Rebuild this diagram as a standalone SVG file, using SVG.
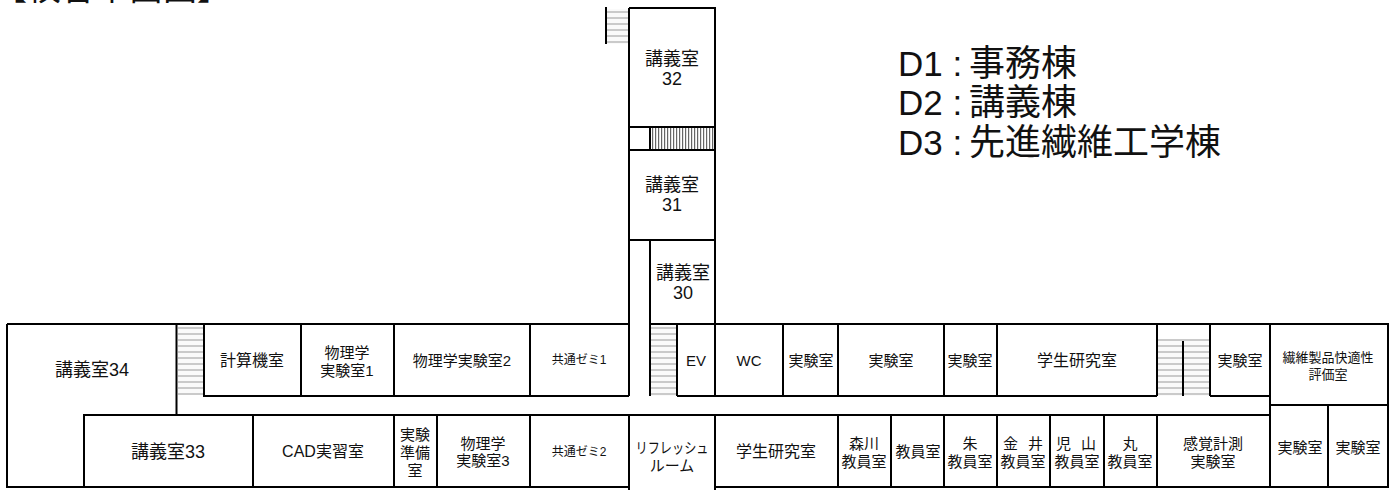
<svg xmlns="http://www.w3.org/2000/svg" width="1396" height="490" viewBox="0 0 1396 490">
<defs>
<pattern id="stairH" width="10" height="6" patternUnits="userSpaceOnUse" y="327">
<rect width="10" height="6" fill="#fafafa"/>
<rect y="0" width="10" height="2" fill="#cacaca"/>
</pattern>
<pattern id="stairT" width="10" height="6" patternUnits="userSpaceOnUse" y="11">
<rect width="10" height="6" fill="#fafafa"/>
<rect y="0" width="10" height="2" fill="#cacaca"/>
</pattern>
<pattern id="stairV" width="3" height="10" patternUnits="userSpaceOnUse" x="652">
<rect width="3" height="10" fill="#fff"/>
<rect width="1.200" height="10" fill="#666"/>
</pattern>
</defs>
<style>
text{font-family:"Liberation Sans","Noto Sans CJK JP",sans-serif;fill:#111;text-anchor:middle}
.w{stroke:#000;stroke-width:2;fill:none}
.h{font-size:18px}.b{font-size:16px}.s{font-size:15px}.t{font-size:13px}.x{font-size:12px}
.l{font-size:35px;text-anchor:start}
.k{font-size:36px}
.g{word-spacing:6px}
</style>
<rect width="1396" height="490" fill="#fff"/>
<g id="stairs">
<rect x="178" y="326" width="25" height="69" fill="url(#stairH)"/>
<rect x="651" y="326" width="25" height="70" fill="url(#stairH)"/>
<rect x="1158" y="339" width="51" height="57" fill="url(#stairH)"/>
<rect x="607" y="9" width="21" height="35" fill="url(#stairT)"/>
<rect x="651" y="128" width="63" height="21" fill="url(#stairV)"/>
</g>
<g id="connectors" class="w">
<path d="M7 324H629M650 324H1388V487H715M629 487H7V324M84 487V415H1270M176.500 324V415M204 324V396H629M677 396H1157M1210 396H1270M629 8H715V324M629 8V396M629 415V490M715 415V490M650 240V396M629 240H715M629 127H715M629 150H715M650 127V150M606 7V44M1183 341V396M1157 324V396M1210 324V396"/>
<path d="M301 324V396M394 324V396M530 324V396M677 324V396M715 324V396M783 324V396M838 324V396M944 324V396M997 324V396M1270 324V487M1270 405H1388M1328 405V487M253 415V487M394 415V487M437 415V487M530 415V487M838 415V487M891 415V487M944 415V487M997 415V487M1050 415V487M1104 415V487M1157 415V487"/>
</g>
<g id="title"><text x="-7" y="0" style="font-size:34px;text-anchor:start">【校舎平面図】</text></g>
<g id="legend">
<text class="l" x="898" y="76">D1 : <tspan class="k" x="969">事務棟</tspan></text>
<text class="l" x="898" y="115">D2 : <tspan class="k" x="969">講義棟</tspan></text>
<text class="l" x="898" y="155">D3 : <tspan class="k" x="969">先進繊維工学棟</tspan></text>
</g>
<g id="r32"><text class="h" x="672" y="65">講義室</text><text class="h" x="672" y="85">32</text></g>
<g id="r31"><text class="h" x="672" y="191">講義室</text><text class="h" x="672" y="211">31</text></g>
<g id="r30"><text class="h" x="683" y="279">講義室</text><text class="h" x="683" y="299">30</text></g>
<g id="r34"><text class="h" x="92" y="376">講義室34</text></g>
<g id="r33"><text class="h" x="168" y="458">講義室33</text></g>
<g id="keisan"><text class="b" x="252" y="366">計算機室</text></g>
<g id="phys1"><text class="s" x="347" y="358">物理学</text><text class="s" x="347" y="376">実験室1</text></g>
<g id="phys2"><text class="s" x="462" y="366">物理学実験室2</text></g>
<g id="zemi1"><text class="x" x="579" y="364">共通ゼミ1</text></g>
<g id="ev"><text class="s" x="696" y="366">EV</text></g>
<g id="wc"><text class="s" x="749" y="366">WC</text></g>
<g id="j1"><text class="s" x="811" y="366">実験室</text></g>
<g id="j2"><text class="s" x="891" y="366">実験室</text></g>
<g id="j3"><text class="s" x="970" y="366">実験室</text></g>
<g id="gk1"><text class="b" x="1077" y="366">学生研究室</text></g>
<g id="j4"><text class="s" x="1240" y="366">実験室</text></g>
<g id="seni"><text class="t" x="1328" y="362">繊維製品快適性</text><text class="t" x="1328" y="379">評価室</text></g>
<g id="cad"><text class="b" x="323" y="457">CAD実習室</text></g>
<g id="junbi"><text class="s" x="415" y="440">実験</text><text class="s" x="415" y="458">準備</text><text class="s" x="415" y="476">室</text></g>
<g id="phys3"><text class="s" x="483" y="449">物理学</text><text class="s" x="483" y="466">実験室3</text></g>
<g id="zemi2"><text class="x" x="579" y="456">共通ゼミ2</text></g>
<g id="refresh"><text class="s" x="672" y="453" textLength="73" lengthAdjust="spacingAndGlyphs">リフレッシュ</text><text class="s" x="672" y="471">ルーム</text></g>
<g id="gk2"><text class="b" x="776" y="457">学生研究室</text></g>
<g id="mori"><text class="s" x="864" y="449">森川</text><text class="s" x="864" y="467">教員室</text></g>
<g id="ky"><text class="s" x="918" y="457">教員室</text></g>
<g id="shu"><text class="s" x="970" y="449">朱</text><text class="s" x="970" y="467">教員室</text></g>
<g id="kanai"><text class="s g" x="1023" y="449">金 井</text><text class="s" x="1023" y="467">教員室</text></g>
<g id="koyama"><text class="s g" x="1076" y="449">児 山</text><text class="s" x="1077" y="467">教員室</text></g>
<g id="maru"><text class="s" x="1130" y="449">丸</text><text class="s" x="1130" y="467">教員室</text></g>
<g id="kankaku"><text class="s" x="1213" y="449">感覚計測</text><text class="s" x="1213" y="467">実験室</text></g>
<g id="j5"><text class="s" x="1300" y="453">実験室</text></g>
<g id="j6"><text class="s" x="1358" y="453">実験室</text></g>
</svg>
